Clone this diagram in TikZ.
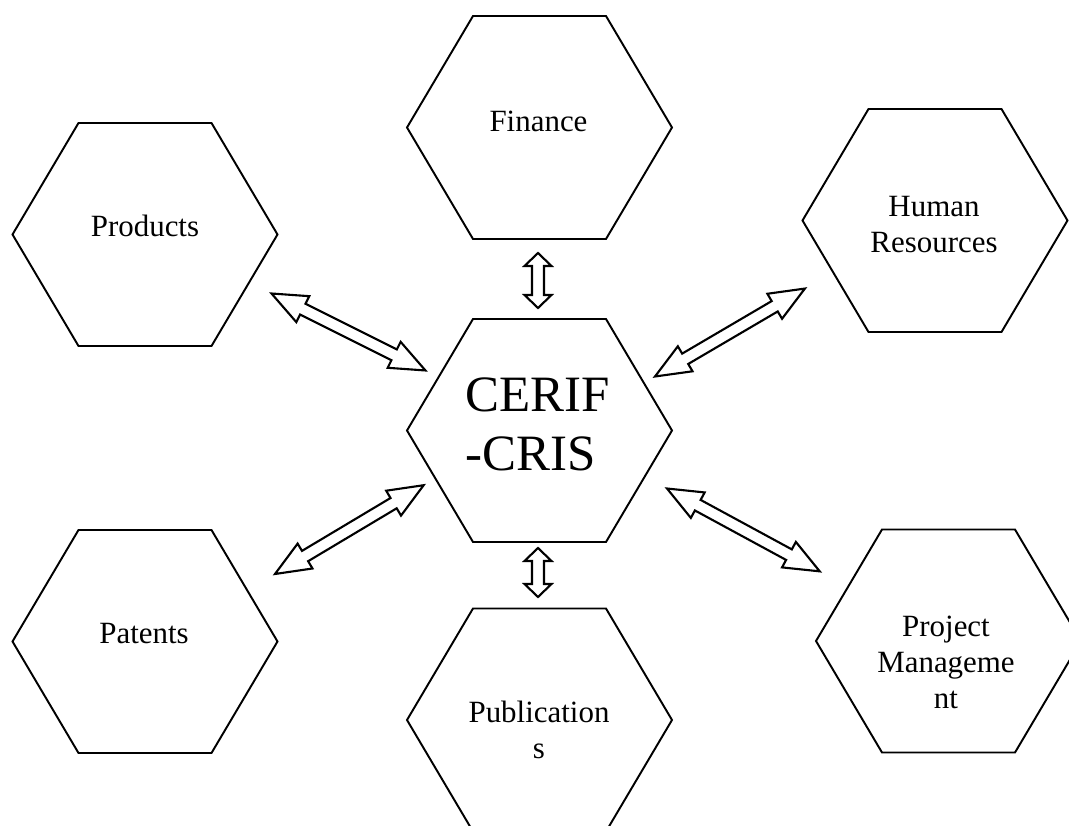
\documentclass[tikz,border=0pt]{standalone}
\usepackage{fontspec}
\setmainfont{Liberation Serif}
\usetikzlibrary{calc}

% hexagon around a named centre
\newcommand{\hexcell}[2]{%
	\coordinate (#1) at (#2);
	\draw[hexline] ($(#1)+(-2.65,0)$) -- ++(1.32,2.23) -- ++(2.66,0) -- ++(1.32,-2.23)
		-- ++(-1.32,-2.23) -- ++(-2.66,0) -- cycle;}
% hollow two-headed block arrow between two named points
\newcommand{\bidir}[4][0.7]{%
	\draw[arrowline] let \p1=(#2), \p2=(#3), \n1={atan2(\y2-\y1,\x2-\x1)},
		\n2={veclen(\x2-\x1,\y2-\y1)} in
		[shift={(\p1)}, rotate=\n1]
		(0cm,0cm) -- (#1cm,#4cm) -- (#1cm,0.12cm) -- ({\n2-#1cm},0.12cm) -- ({\n2-#1cm},#4cm)
		-- ({\n2+0cm},0cm) -- ({\n2-#1cm},-#4cm) -- ({\n2-#1cm},-0.12cm) -- (#1cm,-0.12cm)
		-- (#1cm,-#4cm) -- cycle;}

\tikzset{
	hexline/.style={line width=1.1pt, line join=miter},
	arrowline/.style={line width=1.2pt, fill=white, line join=miter},
	hextext/.style={align=center, inner sep=0pt, font=\fontsize{17.6pt}{20.5pt}\selectfont},
}

\begin{document}
\begin{tikzpicture}
	\path[use as bounding box, clip] (0,0) rectangle (21.38,16.5);
	%
	\hexcell{fin-hex}{10.79,13.95}
	\hexcell{core-hex}{10.79,7.89}
	\hexcell{prod-hex}{2.90,11.81}
	\hexcell{hr-hex}{18.70,12.09}
	\hexcell{pat-hex}{2.90,3.67}
	\hexcell{pm-hex}{18.97,3.68}
	\hexcell{pub-hex}{10.79,2.10}
	%
	\node[hextext] (fin) at (10.77,14.07) {Finance};
	\node[hextext] (prod) at (2.90,11.98) {Products};
	\node[hextext] (hr) at (18.68,12.01) {Human\\Resources};
	\node[hextext] (pat) at (2.88,3.82) {Patents};
	\node[hextext] (pm) at (18.92,3.26) {Project\\Manageme\\nt};
	\node[hextext] (pub) at (10.78,1.91) {Publication\\s};
	\node[hextext, align=left, font=\fontsize{29pt}{33.6pt}\selectfont] (core) at (10.75,8.02) {CERIF\\-CRIS};
	%
	\coordinate (prod-a) at (5.43,10.63);  \coordinate (core-a) at (8.51,9.09);
	\coordinate (core-b) at (13.10,8.97);  \coordinate (hr-a) at (16.10,10.73);
	\coordinate (pat-a) at (5.50,5.02);    \coordinate (core-c) at (8.48,6.80);
	\coordinate (core-d) at (13.34,6.73);  \coordinate (pm-a) at (16.40,5.07);
	\coordinate (fin-a) at (10.76,11.44);  \coordinate (core-e) at (10.76,10.34);
	\coordinate (core-f) at (10.76,5.54);  \coordinate (pub-a) at (10.76,4.56);
	%
	\bidir{prod-a}{core-a}{0.29}
	\bidir{core-b}{hr-a}{0.29}
	\bidir{pat-a}{core-c}{0.29}
	\bidir{core-d}{pm-a}{0.29}
	\bidir[0.26]{fin-a}{core-e}{0.27}
	\bidir[0.26]{core-f}{pub-a}{0.27}
\end{tikzpicture}
\end{document}
